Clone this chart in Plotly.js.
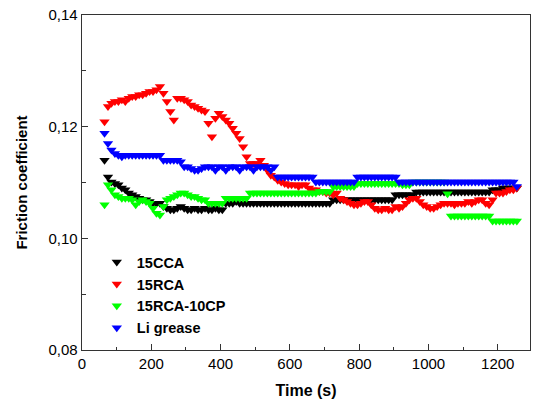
<!DOCTYPE html>
<html>
<head>
<meta charset="utf-8">
<script src="https://cdn.plot.ly/plotly-3.0.1.min.js"></script>
<style>html,body{margin:0;padding:0;background:#fff;}#chart{width:533px;height:405px;}</style>
</head>
<body>
<div id="chart"></div>
<script>
var seriesNames = ["15CCA", "15RCA", "15RCA-10CP", "Li grease"];
var seriesColors = ["#000000", "#ff0000", "#00ff00", "#0000ff"];

var time = [
  65, 75, 85, 95, 105, 115, 125, 135, 145, 155,
  165, 175, 185, 195, 205, 215, 225, 235, 245, 255,
  265, 275, 285, 295, 305, 315, 325, 335, 345, 355,
  365, 375, 385, 395, 405, 415, 425, 435, 445, 455,
  465, 475, 485, 495, 505, 515, 525, 535, 545, 555,
  565, 575, 585, 595, 605, 615, 625, 635, 645, 655,
  665, 675, 685, 695, 705, 715, 725, 735, 745, 755,
  765, 775, 785, 795, 805, 815, 825, 835, 845, 855,
  865, 875, 885, 895, 905, 915, 925, 935, 945, 955,
  965, 975, 985, 995, 1005, 1015, 1025, 1035, 1045, 1055,
  1065, 1075, 1085, 1095, 1105, 1115, 1125, 1135, 1145, 1155,
  1165, 1175, 1185, 1195, 1205, 1215, 1225, 1235, 1245, 1255
];

var cca15 = [
  0.1140, 0.1110, 0.1101, 0.1098, 0.1096, 0.1090, 0.1087, 0.1081, 0.1078, 0.1075,
  0.1072, 0.1069, 0.1069, 0.1066, 0.1063, 0.1063, 0.1063, 0.1057, 0.1054, 0.1051,
  0.1051, 0.1054, 0.1057, 0.1054, 0.1051, 0.1051, 0.1054, 0.1051, 0.1051, 0.1054,
  0.1051, 0.1051, 0.1054, 0.1051, 0.1051, 0.1063, 0.1063, 0.1063, 0.1066, 0.1063,
  0.1063, 0.1063, 0.1063, 0.1063, 0.1063, 0.1063, 0.1063, 0.1063, 0.1063, 0.1063,
  0.1063, 0.1063, 0.1063, 0.1063, 0.1063, 0.1063, 0.1063, 0.1063, 0.1063, 0.1063,
  0.1063, 0.1063, 0.1063, 0.1063, 0.1063, 0.1063, 0.1069, 0.1069, 0.1069, 0.1069,
  0.1069, 0.1069, 0.1069, 0.1069, 0.1069, 0.1069, 0.1069, 0.1069, 0.1069, 0.1069,
  0.1069, 0.1069, 0.1069, 0.1069, 0.1078, 0.1078, 0.1078, 0.1078, 0.1078, 0.1078,
  0.1083, 0.1083, 0.1083, 0.1083, 0.1083, 0.1083, 0.1083, 0.1083, 0.1083, 0.1083,
  0.1083, 0.1083, 0.1083, 0.1083, 0.1083, 0.1083, 0.1083, 0.1083, 0.1083, 0.1083,
  0.1083, 0.1083, 0.1087, 0.1087, 0.1087, 0.1090, 0.1090, 0.1090, 0.1090, 0.1090
];

var rca15 = [
  0.1209, 0.1236, 0.1242, 0.1245, 0.1245, 0.1248, 0.1245, 0.1251, 0.1254, 0.1254,
  0.1257, 0.1257, 0.1260, 0.1263, 0.1263, 0.1266, 0.1272, 0.1260, 0.1245, 0.1227,
  0.1212, 0.1251, 0.1251, 0.1248, 0.1245, 0.1239, 0.1236, 0.1233, 0.1230, 0.1227,
  0.1206, 0.1182, 0.1215, 0.1224, 0.1218, 0.1212, 0.1206, 0.1197, 0.1188, 0.1179,
  0.1164, 0.1146, 0.1134, 0.1134, 0.1134, 0.1140, 0.1131, 0.1122, 0.1113, 0.1110,
  0.1104, 0.1101, 0.1098, 0.1096, 0.1096, 0.1096, 0.1093, 0.1096, 0.1096, 0.1090,
  0.1087, 0.1087, 0.1084, 0.1084, 0.1081, 0.1081, 0.1078, 0.1081, 0.1072, 0.1069,
  0.1066, 0.1063, 0.1060, 0.1060, 0.1063, 0.1066, 0.1066, 0.1060, 0.1054, 0.1051,
  0.1051, 0.1054, 0.1051, 0.1051, 0.1057, 0.1054, 0.1057, 0.1063, 0.1069, 0.1072,
  0.1072, 0.1066, 0.1060, 0.1057, 0.1054, 0.1054, 0.1057, 0.1060, 0.1063, 0.1063,
  0.1063, 0.1060, 0.1063, 0.1063, 0.1063, 0.1066, 0.1063, 0.1066, 0.1069, 0.1069,
  0.1063, 0.1060, 0.1069, 0.1081, 0.1081, 0.1081, 0.1084, 0.1087, 0.1087, 0.1090
];

var rca15cp10 = [
  0.1060, 0.1096, 0.1087, 0.1078, 0.1075, 0.1072, 0.1072, 0.1072, 0.1069, 0.1060,
  0.1066, 0.1069, 0.1066, 0.1063, 0.1054, 0.1045, 0.1042, 0.1057, 0.1069, 0.1072,
  0.1075, 0.1078, 0.1081, 0.1081, 0.1078, 0.1075, 0.1075, 0.1072, 0.1069, 0.1069,
  0.1063, 0.1063, 0.1063, 0.1063, 0.1063, 0.1072, 0.1072, 0.1072, 0.1072, 0.1072,
  0.1072, 0.1072, 0.1081, 0.1081, 0.1081, 0.1081, 0.1081, 0.1081, 0.1081, 0.1081,
  0.1081, 0.1081, 0.1081, 0.1081, 0.1081, 0.1081, 0.1081, 0.1081, 0.1081, 0.1081,
  0.1081, 0.1081, 0.1084, 0.1084, 0.1084, 0.1084, 0.1093, 0.1093, 0.1093, 0.1093,
  0.1093, 0.1093, 0.1093, 0.1098, 0.1098, 0.1098, 0.1098, 0.1098, 0.1098, 0.1098,
  0.1098, 0.1098, 0.1098, 0.1098, 0.1098, 0.1098, 0.1096, 0.1096, 0.1096, 0.1101,
  0.1101, 0.1101, 0.1101, 0.1101, 0.1101, 0.1101, 0.1101, 0.1101, 0.1101, 0.1080,
  0.1040, 0.1040, 0.1040, 0.1040, 0.1040, 0.1040, 0.1040, 0.1040, 0.1040, 0.1040,
  0.1040, 0.1040, 0.1031, 0.1031, 0.1031, 0.1031, 0.1031, 0.1031, 0.1031, 0.1031
];

var liGrease = [
  0.1188, 0.1170, 0.1158, 0.1152, 0.1149, 0.1146, 0.1149, 0.1149, 0.1149, 0.1149,
  0.1149, 0.1149, 0.1149, 0.1149, 0.1149, 0.1149, 0.1149, 0.1140, 0.1140, 0.1140,
  0.1140, 0.1140, 0.1137, 0.1128, 0.1128, 0.1125, 0.1122, 0.1122, 0.1125, 0.1128,
  0.1128, 0.1128, 0.1122, 0.1128, 0.1128, 0.1122, 0.1128, 0.1128, 0.1128, 0.1122,
  0.1128, 0.1128, 0.1128, 0.1122, 0.1128, 0.1128, 0.1128, 0.1128, 0.1122, 0.1128,
  0.1110, 0.1110, 0.1110, 0.1110, 0.1110, 0.1110, 0.1110, 0.1110, 0.1110, 0.1110,
  0.1110, 0.1101, 0.1101, 0.1101, 0.1101, 0.1101, 0.1101, 0.1101, 0.1101, 0.1101,
  0.1101, 0.1101, 0.1101, 0.1110, 0.1110, 0.1110, 0.1110, 0.1110, 0.1110, 0.1110,
  0.1110, 0.1110, 0.1110, 0.1110, 0.1110, 0.1101, 0.1101, 0.1101, 0.1101, 0.1101,
  0.1101, 0.1101, 0.1101, 0.1101, 0.1101, 0.1101, 0.1101, 0.1101, 0.1101, 0.1101,
  0.1101, 0.1101, 0.1101, 0.1101, 0.1101, 0.1101, 0.1101, 0.1101, 0.1101, 0.1101,
  0.1101, 0.1101, 0.1101, 0.1101, 0.1101, 0.1101, 0.1101, 0.1101, 0.1101, 0.1093
];

var seriesValues = [cca15, rca15, rca15cp10, liGrease];

var traces = seriesValues.map(function (vals, i) {
  return {
    type: "scatter",
    mode: "markers",
    x: time,
    y: vals,
    name: seriesNames[i],
    marker: { symbol: "triangle-down", size: 9, color: seriesColors[i], line: { width: 0 } }
  };
});

var FONT = "'Liberation Sans', Arial, sans-serif";

var axisCommon = {
  showgrid: false,
  zeroline: false,
  showline: true,
  mirror: true,
  linecolor: "#333333",
  linewidth: 1.3,
  ticks: "inside",
  ticklen: 6,
  tickwidth: 1.2,
  tickcolor: "#333333",
  tickfont: { family: FONT, size: 15, color: "#000" }
};

var layout = {
  width: 533,
  height: 405,
  margin: { l: 82, r: 3, t: 15, b: 55 },
  paper_bgcolor: "#ffffff",
  plot_bgcolor: "#ffffff",
  separators: ", ",
  showlegend: true,
  legend: {
    x: 0.033, y: 0.31, xanchor: "left", yanchor: "top",
    bgcolor: "rgba(0,0,0,0)",
    font: { family: FONT, size: 14.5, color: "#000", weight: "bold" },
    tracegroupgap: 0,
    itemsizing: "trace"
  },
  xaxis: Object.assign({}, axisCommon, {
    range: [0, 1293],
    tickvals: [0, 200, 400, 600, 800, 1000, 1200],
    minor: { dtick: 100, ticklen: 3.5, ticks: "inside", tickcolor: "#333333", tickwidth: 1 },
    title: { text: "Time (s)", standoff: 13, font: { family: FONT, size: 16, color: "#000", weight: "bold" } }
  }),
  yaxis: Object.assign({}, axisCommon, {
    range: [0.08, 0.14],
    tickvals: [0.08, 0.10, 0.12, 0.14],
    tickformat: ".2f",
    minor: { dtick: 0.01, ticklen: 3.5, ticks: "inside", tickcolor: "#333333", tickwidth: 1 },
    title: { text: "Friction coefficient", standoff: 17, font: { family: FONT, size: 15, color: "#000", weight: "bold" } }
  })
};

Plotly.newPlot("chart", traces, layout, { displayModeBar: false, staticPlot: true });
</script>
</body>
</html>
